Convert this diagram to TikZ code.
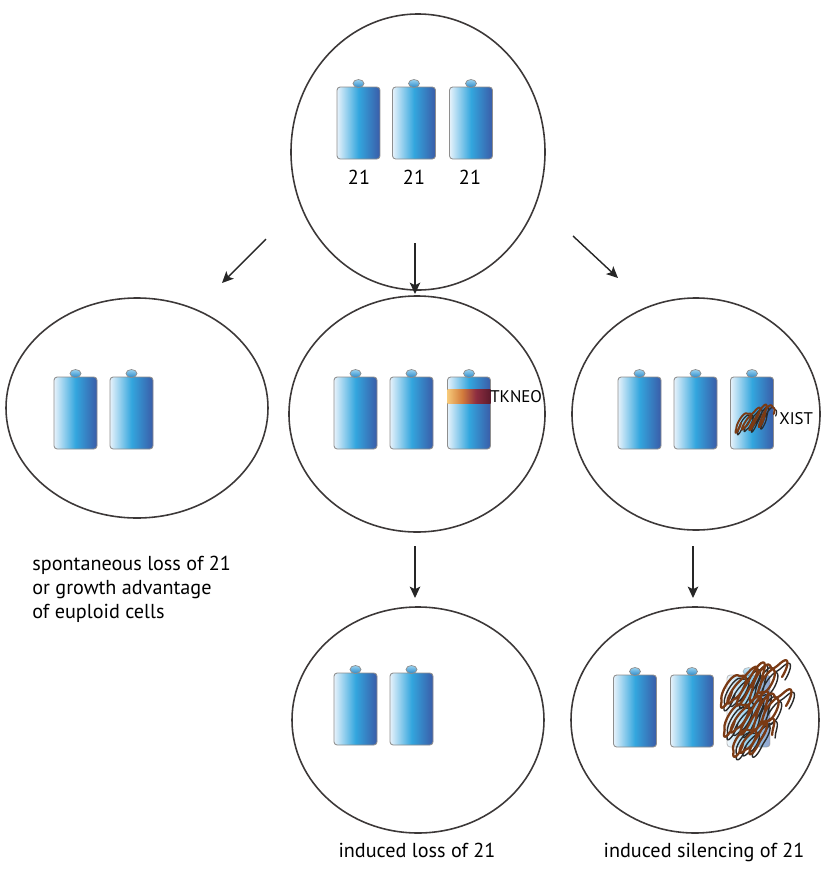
\documentclass[tikz,border=0pt]{standalone}
\usepackage{fontspec}
\setmainfont{PT Sans}
\usetikzlibrary{arrows.meta,shapes.geometric}

% chromosome body colours
\definecolor{chL}{HTML}{E6F2FB}
\definecolor{chM}{HTML}{33A6DE}
\definecolor{chR}{HTML}{3A5CA8}
\definecolor{knobT}{HTML}{9AD4F2}
\definecolor{knobB}{HTML}{2A88C8}
\definecolor{rim}{HTML}{8E8E8E}
\definecolor{cellline}{HTML}{3C3838}
\definecolor{brownink}{HTML}{7A3A14}
\definecolor{darkink}{HTML}{2A2A2A}
% TKNEO insert colours
\definecolor{tkA}{HTML}{F6C878}
\definecolor{tkB}{HTML}{D27C3C}
\definecolor{tkC}{HTML}{8E2E40}
\definecolor{tkD}{HTML}{5C1A2C}
\pgfdeclarehorizontalshading{tkneo}{100bp}{color(0bp)=(tkA); color(25bp)=(tkA); color(42bp)=(tkB); color(58bp)=(tkC); color(75bp)=(tkD); color(100bp)=(tkD)}

\tikzset{
  cell/.style={ellipse, draw=cellline, line width=0.9pt, inner sep=0pt},
  arr/.style={draw=black!85, line width=0.8pt, -{Stealth[length=6.5pt,width=6pt,inset=1.5pt]}},
  lbl/.style={font=\fontsize{11.5}{13.6}\selectfont, inner sep=0pt},
  tag/.style={font=\fontsize{9.6}{11}\selectfont, inner sep=0pt},
  chrom/.pic={
    \draw[rim, line width=0.5pt, rounded corners=1.8pt,
          left color=chL, right color=chR, middle color=chM]
      (-21.5,0) rectangle (21.5,72);
    \draw[rim, line width=0.4pt, top color=knobT, bottom color=knobB]
      (0,-3.5) ellipse [x radius=5.5, y radius=4];
  }
}

% row of slanted hand-drawn loops:
% start x, start y, end x, end y, loop half-width, loop half-height, turning angle
\newcommand{\looprow}[8][]{%
  \draw[#1, line join=round, line cap=round] plot[smooth, domain=0:#8, samples=160, variable=\t]
    ({#2+(#4-#2)*(\t/#8)+(1+0.25*sin(2.3*\t))*(#6*cos(\t)-0.5*#7*sin(\t))},
     {#3+(#5-#3)*(\t/#8)+(1+0.25*sin(2.3*\t))*#7*sin(\t)});}

\begin{document}
\begin{tikzpicture}[x=0.02cm, y=-0.02cm]
  \useasboundingbox (0,0) rectangle (823,876);

  % cells
  \node[cell, minimum width=254*0.02cm, minimum height=276*0.02cm] (top) at (418,152) {};
  \node[cell, minimum width=262*0.02cm, minimum height=220*0.02cm] (left) at (137,408) {};
  \node[cell, minimum width=256*0.02cm, minimum height=236*0.02cm] (mid) at (417,414) {};
  \node[cell, minimum width=248*0.02cm, minimum height=232*0.02cm] (right) at (696,414) {};
  \node[cell, minimum width=252*0.02cm, minimum height=226*0.02cm] (bmid) at (418,720) {};
  \node[cell, minimum width=248*0.02cm, minimum height=226*0.02cm] (bright) at (695,720) {};

  % trisomic parent cell
  \pic at (358.5,87) {chrom};
  \pic at (414,87) {chrom};
  \pic at (471,87) {chrom};
  \node[lbl, anchor=base] (n1) at (359,184) {21};
  \node[lbl, anchor=base] (n2) at (414,184) {21};
  \node[lbl, anchor=base] (n3) at (470,184) {21};

  % euploid cell after spontaneous loss
  \pic at (75.5,377) {chrom};
  \pic at (131.5,377) {chrom};

  % cell carrying the TKNEO insert
  \pic at (355.5,377) {chrom};
  \pic at (411.5,377) {chrom};
  \pic at (469,377) {chrom};
  \shade[shading=tkneo] (447.5,389) rectangle (490.5,403);
  \node[tag, anchor=west] (tk) at (490,397) {TKNEO};

  % cell carrying the XIST transgene
  \pic at (639.5,377) {chrom};
  \pic at (695.5,377) {chrom};
  \pic at (752,377) {chrom};
  \looprow[darkink, line width=0.7pt]{740}{425}{772}{416}{3}{10}{1440}
  \looprow[brownink, line width=1.1pt]{738}{423}{770}{414}{3}{10}{1440}
  \node[tag, anchor=west] (xist) at (779,419) {XIST};

  % after induced loss
  \pic at (355.5,673) {chrom};
  \pic at (411.5,673) {chrom};

  % after induced silencing
  \pic at (635,675) {chrom};
  \pic at (692,675) {chrom};
  \pic[opacity=0.55] at (748.5,675) {chrom};
  \looprow[darkink, line width=0.8pt]{729}{694}{779}{680}{6}{17}{1800}
  \looprow[darkink, line width=0.8pt]{732}{723}{783}{709}{6}{17}{1800}
  \looprow[darkink, line width=0.8pt]{740}{746}{770}{738}{6}{14}{1080}
  \looprow[brownink, line width=1.3pt]{726}{691}{776}{677}{6}{17}{1800}
  \looprow[brownink, line width=1.3pt]{729}{720}{780}{706}{6}{17}{1800}
  \looprow[brownink, line width=1.3pt]{737}{743}{767}{735}{6}{14}{1080}

  % arrows between stages
  \coordinate (a1s) at (266,239);  \coordinate (a1e) at (222,283);
  \coordinate (a2s) at (415,243);  \coordinate (a2e) at (415,294);
  \coordinate (a3s) at (573,236);  \coordinate (a3e) at (618,278);
  \coordinate (a4s) at (415,546);  \coordinate (a4e) at (415,598);
  \coordinate (a5s) at (693,546);  \coordinate (a5e) at (693,598);
  \draw[arr] (a1s) -- (a1e);
  \draw[arr] (a2s) -- (a2e);
  \draw[arr] (a3s) -- (a3e);
  \draw[arr] (a4s) -- (a4e);
  \draw[arr] (a5s) -- (a5e);

  % captions
  \node[lbl, anchor=north west, align=left] (cap1) at (32,556)
    {spontaneous loss of 21\\or growth advantage\\of euploid cells};
  \node[lbl, anchor=base] (cap2) at (417,857) {induced loss of 21};
  \node[lbl, anchor=base] (cap3) at (704,857) {induced silencing of 21};
\end{tikzpicture}
\end{document}
